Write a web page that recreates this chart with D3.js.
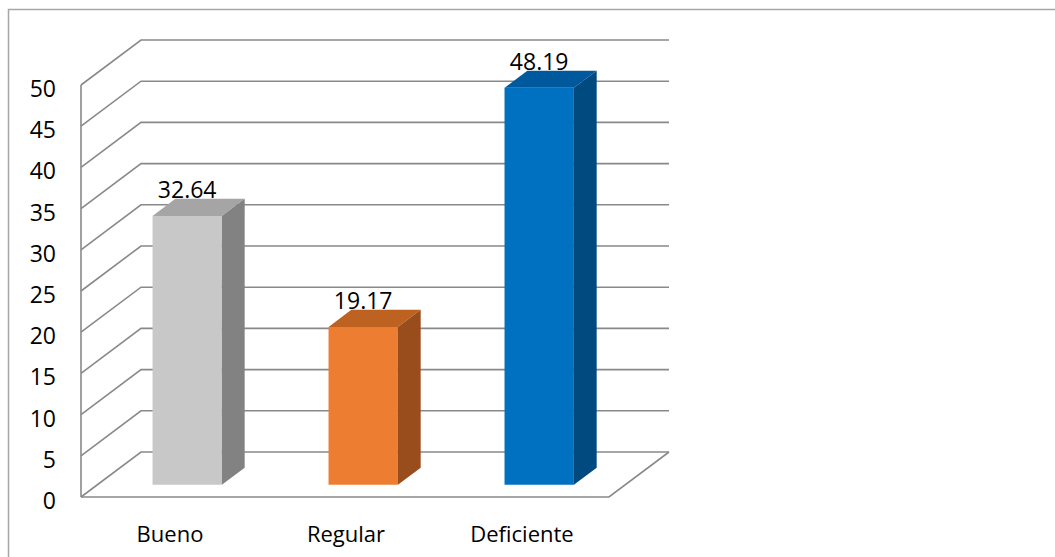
<!DOCTYPE html>
<html>
<head>
<meta charset="utf-8">
<script src="https://cdn.jsdelivr.net/npm/d3@7"></script>
<style>
  body { margin: 0; background: #fff; }
  svg { display: block; }
  text { font-family: "Open Sans", sans-serif; fill: #000; }
</style>
</head>
<body>
<div id="chart"></div>
<script>
// Dados
const categorias = ["Bueno", "Regular", "Deficiente"];
const valores = [32.64, 19.17, 48.19];
const ticks = [0, 5, 10, 15, 20, 25, 30, 35, 40, 45, 50];
const coresFrente = ["#c8c8c8", "#ed7d31", "#0070c0"];
const coresTopo = ["#a5a5a5", "#bd6220", "#00599c"];
const coresLado = ["#828282", "#9a4d1c", "#004a80"];

const W = 1055, H = 557;
const svg = d3.select("#chart").append("svg")
    .attr("width", W)
    .attr("height", H);

// Borda do gráfico
svg.append("rect")
    .attr("x", 8.5).attr("y", 9.5)
    .attr("width", W + 20).attr("height", H + 20)
    .attr("fill", "none")
    .attr("stroke", "#a6a6a6")
    .attr("stroke-width", 1.5);

// Escalas (plano frontal)
const x = d3.scaleBand()
    .domain(categorias)
    .range([81, 609])
    .paddingInner(0.606)
    .paddingOuter(0.303);

const y = d3.scaleLinear()
    .domain([0, 50])
    .range([497, 85]);

// profundidade: desloca x e y
const DX = 60, DY = -45;
const off = d => [DX * d, DY * d];

const grid = svg.append("g")
    .attr("fill", "none")
    .attr("stroke", "#898989")
    .attr("stroke-width", 1.6);

// Linhas de grade (parede lateral + parede do fundo)
ticks.forEach(t => {
    const [bx, by] = off(1);
    grid.append("polyline")
        .attr("points", [[81, y(t)], [81 + bx, y(t) + by], [x.range()[1] + bx, y(t) + by]].join(" "));
});

// Eixo vertical e piso
grid.append("line")
    .attr("x1", 81).attr("x2", 81)
    .attr("y1", y(50)).attr("y2", y(0));

grid.append("polyline")
    .attr("points", [[81, y(0)], [609, y(0)], [609 + DX, y(0) + DY]].join(" "));

// Rótulos do eixo Y
svg.append("g").selectAll("text")
    .data(ticks)
    .join("text")
    .attr("x", 56)
    .attr("y", d => y(d) + 12)
    .attr("text-anchor", "end")
    .attr("font-size", 23)
    .text(d => d);

// Barras 3D
const d0 = 0.27, d1 = 0.65;
const [fx, fy] = off(d0);
const [bx, by] = off(d1);
const sx = bx - fx, sy = by - fy;

const barras = svg.append("g").selectAll("g")
    .data(categorias.map((c, i) => ({ c, v: valores[i], i })))
    .join("g");

barras.each(function(d) {
    const g = d3.select(this);
    const x1 = x(d.c) + fx + 2, x2 = x1 + x.bandwidth();
    const yt = y(d.v) + fy, yb = y(0) + fy;

    g.append("polygon")
        .attr("points", [[x1, yt], [x2, yt], [x2, yb], [x1, yb]].join(" "))
        .attr("fill", coresFrente[d.i]);
    g.append("polygon")
        .attr("points", [[x1, yt], [x2, yt], [x2 + sx, yt + sy], [x1 + sx, yt + sy]].join(" "))
        .attr("fill", coresTopo[d.i]);
    g.append("polygon")
        .attr("points", [[x2, yt], [x2 + sx, yt + sy], [x2 + sx, yb + sy], [x2, yb]].join(" "))
        .attr("fill", coresLado[d.i]);

    g.append("text")
        .attr("x", (x1 + x2) / 2)
        .attr("y", yt + sy - 1)
        .attr("text-anchor", "middle")
        .attr("font-size", 23)
        .text(d.v.toFixed(2));
});

// Rótulos das categorias
svg.append("g").selectAll("text")
    .data(categorias)
    .join("text")
    .attr("x", d => x(d) + x.bandwidth() / 2 + 1)
    .attr("y", 542)
    .attr("text-anchor", "middle")
    .attr("font-size", 22)
    .text(d => d);
</script>
</body>
</html>
